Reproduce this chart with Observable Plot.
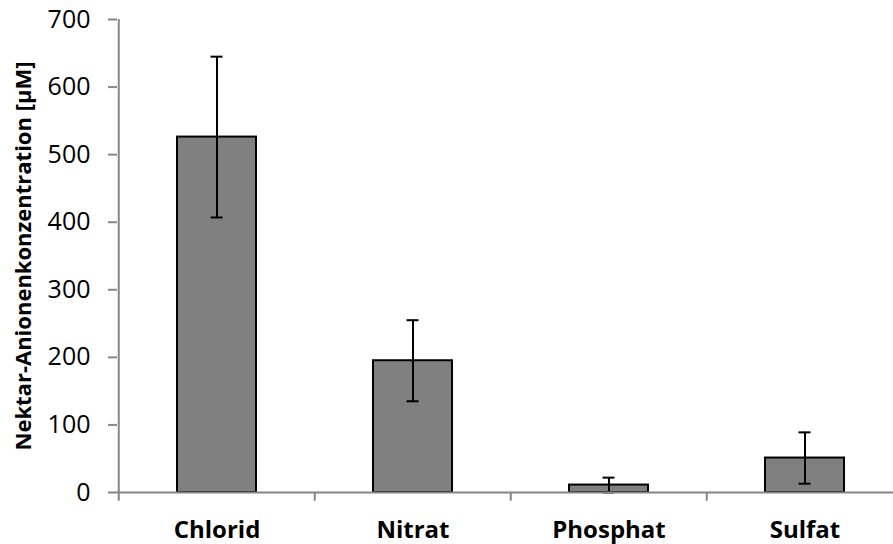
<!DOCTYPE html>
<html>
<head>
<meta charset="utf-8">
<script src="https://cdn.jsdelivr.net/npm/d3@7"></script>
<script src="https://cdn.jsdelivr.net/npm/@observablehq/plot@0.6"></script>
<style>
  html, body { margin: 0; padding: 0; background: #fff; }
  #chart { width: 893px; height: 544px; overflow: hidden; }
</style>
</head>
<body>
<div id="chart"></div>
<script>
// Nectar anion concentrations (mean ± SD, µM)
const anions = ["Chlorid", "Nitrat", "Phosphat", "Sulfat"];
const meanConc = [526, 195, 11, 51];
const sdConc = [119, 60, 11, 38];
const yTicks = [0, 100, 200, 300, 400, 500, 600, 700];
const yTitle = "Nektar-Anionenkonzentration [µM]";

const data = anions.map((a, i) => ({anion: a, mean: meanConc[i], sd: sdConc[i]}));

const font = "'Open Sans', Lato, sans-serif";
const axisGrey = "#868686";

const W = 893, H = 544;
const left = 117, right = 903;          // category axis continues past the right edge
const step = (right - left) / anions.length;
const padInner = 0.598;
const bandW = step * (1 - padInner);
const capW = 12;
const capInset = (bandW - capW) / 2;

const chart = Plot.plot({
  width: W,
  height: H,
  marginLeft: left,
  marginRight: 0,
  marginTop: 19,
  marginBottom: 52,
  style: {fontFamily: font, background: "#fff", overflow: "hidden"},
  x: {domain: anions, range: [left, right], paddingInner: padInner, paddingOuter: padInner / 2},
  y: {domain: [0, 700]},
  marks: [
    Plot.barY(data, {x: "anion", y: "mean", fill: "#808080", stroke: "#000", strokeWidth: 2}),
    // error bars with caps
    Plot.ruleX(data, {x: "anion", y1: d => d.mean - d.sd, y2: d => d.mean + d.sd, stroke: "#000", strokeWidth: 2}),
    Plot.tickY(data, {x: "anion", y: d => d.mean + d.sd, stroke: "#000", strokeWidth: 2,
      insetLeft: capInset, insetRight: capInset}),
    Plot.tickY(data, {x: "anion", y: d => Math.max(0, d.mean - d.sd), stroke: "#000", strokeWidth: 2,
      insetLeft: capInset, insetRight: capInset}),
    // value axis line
    Plot.ruleX([anions[0]], {x: d => d, dx: -step / 2, y1: 0, y2: 700, stroke: axisGrey, strokeWidth: 2}),
    // category axis line and boundary ticks
    Plot.ruleY([0], {stroke: axisGrey, strokeWidth: 2}),
    Plot.ruleX(anions, {x: d => d, dx: -step / 2, y1: 0, y2: -13, stroke: axisGrey, strokeWidth: 2}),
    Plot.axisY({ticks: yTicks, tickSize: 9, tickPadding: 18, stroke: axisGrey, strokeWidth: 2,
      strokeOpacity: 1, fontSize: 25, fill: "#000", label: null}),
    Plot.axisX({tickSize: 0, tickPadding: 28, fontSize: 24, fontWeight: "bold", fill: "#000", label: null}),
    Plot.text([yTitle], {frameAnchor: "left", dx: -94, rotate: -90, fontSize: 22, fontWeight: "bold",
      fill: "#000", textAnchor: "middle"})
  ]
});

document.getElementById("chart").appendChild(chart);
</script>
</body>
</html>
